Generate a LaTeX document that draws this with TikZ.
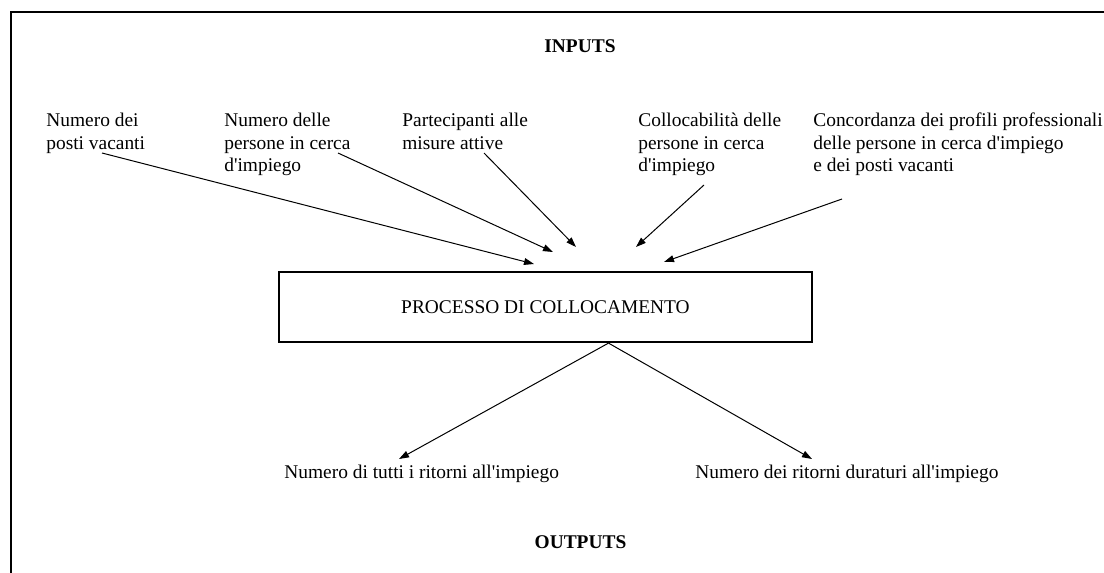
\documentclass[tikz,border=0pt]{standalone}
\usepackage{fontspec}
\setmainfont[Ligatures=TeXOff]{Liberation Serif}
\usetikzlibrary{arrows.meta,calc}

\begin{document}
\begin{tikzpicture}[
      x=0.5pt, y=-0.5pt,
      font=\fontsize{9.7}{11.35}\selectfont,
      inputtxt/.style={anchor=north west, align=left, inner sep=0pt},
      outputtxt/.style={anchor=base west, inner sep=0pt},
      heading/.style={anchor=base, inner sep=0pt,
        font=\fontsize{9.7}{11.35}\selectfont\bfseries},
      process/.style={draw, line width=1.1pt, minimum width=266.5pt,
        minimum height=35pt, inner sep=0pt},
      arrow/.style={-{Triangle[length=5pt,width=3.4pt]}, line width=0.5pt},
      frame/.style={line width=1.1pt}
    ]
    \useasboundingbox (0,0) rectangle (1104,573);
    \draw[frame] (1104,12) -- (11,12) -- (11,573);

    \node[heading] (inputs) at (580,52) {INPUTS};

    \node[inputtxt] (vacanti) at (46,112.5) {Numero dei\\posti vacanti};
    \node[inputtxt] (cercatori) at (224,112.5)
      {Numero delle\\persone in cerca\\d'impiego};
    \node[inputtxt] (misure) at (402,112.5) {Partecipanti alle\\misure attive};
    \node[inputtxt] (collocabilita) at (638,112.5)
      {Collocabilità delle\\persone in cerca\\d'impiego};
    \node[inputtxt] (concordanza) at (813,112.5)
      {Concordanza dei profili professionali\\delle persone in cerca d'impiego\\e dei posti vacanti};

    \node[process] (processo) at (545.5,307) {PROCESSO DI COLLOCAMENTO};

    \node[outputtxt] (tutti) at (284,478) {Numero di tutti i ritorni all'impiego};
    \node[outputtxt] (duraturi) at (695,478) {Numero dei ritorni duraturi all'impiego};
    \node[heading] (outputs) at (580.5,548) {OUTPUTS};

    % free ends of the input arrows
    \coordinate (vacanti-out) at (102,153);
    \coordinate (vacanti-in) at (534,264);
    \coordinate (cercatori-out) at (338,153);
    \coordinate (cercatori-in) at (553,252);
    \coordinate (misure-out) at (484,153);
    \coordinate (misure-in) at (576,247);
    \coordinate (collocabilita-out) at (704,185);
    \coordinate (collocabilita-in) at (636,247);
    \coordinate (concordanza-out) at (842,199);
    \coordinate (concordanza-in) at (664,262);
    % free ends of the output arrows
    \coordinate (processo-out) at ($(processo.south)+(63,0)$);
    \coordinate (tutti-in) at (399,459);
    \coordinate (duraturi-in) at (812,459);

    \draw[arrow] (vacanti-out) -- (vacanti-in);
    \draw[arrow] (cercatori-out) -- (cercatori-in);
    \draw[arrow] (misure-out) -- (misure-in);
    \draw[arrow] (collocabilita-out) -- (collocabilita-in);
    \draw[arrow] (concordanza-out) -- (concordanza-in);
    \draw[arrow] (processo-out) -- (tutti-in);
    \draw[arrow] (processo-out) -- (duraturi-in);
  \end{tikzpicture}
\end{document}
